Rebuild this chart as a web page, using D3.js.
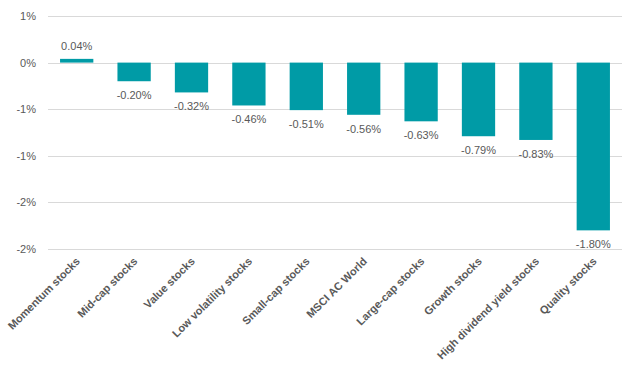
<!DOCTYPE html>
<html lang="en">
    <head>
       <script src="https://d3js.org/d3.v7.min.js"></script>
       <style>
         body { margin: 0; background: #fff; }
         text { font-family: "Liberation Sans", Arial, sans-serif; fill: #595959; }
       </style>
    </head>
    <body>
        <script>
            var width  = 632;
            var height = 367;

            // chart data
            var categories = ["Momentum stocks", "Mid-cap stocks", "Value stocks", "Low volatility stocks",
                              "Small-cap stocks", "MSCI AC World", "Large-cap stocks", "Growth stocks",
                              "High dividend yield stocks", "Quality stocks"];
            var values = [0.04, -0.20, -0.32, -0.46, -0.51, -0.56, -0.63, -0.79, -0.83, -1.80];
            var tickValues = [0.5, 0, -0.5, -1, -1.5, -2];
            var tickLabels = ["1%", "0%", "-1%", "-1%", "-2%", "-2%"];

            var plot = {left: 48, right: 622, top: 16, bottom: 249};

            var svg = d3.select("body")
                        .append("svg")
                        .attr("width", width)
                        .attr("height", height);

            var x = d3.scaleBand()
                      .domain(categories)
                      .range([plot.left, plot.right])
                      .paddingInner(0.42)
                      .paddingOuter(0.21);

            var y = d3.scaleLinear()
                      .domain([-2, 0.5])
                      .range([plot.bottom, plot.top]);

            // gridlines
            svg.selectAll(".grid")
               .data(tickValues)
               .enter().append("line")
               .attr("x1", plot.left)
               .attr("x2", plot.right)
               .attr("y1", function(d) { return Math.round(y(d)) + 0.5; })
               .attr("y2", function(d) { return Math.round(y(d)) + 0.5; })
               .style("stroke", "#d9d9d9")
               .style("stroke-width", 1);

            // y tick labels
            svg.selectAll(".ytick")
               .data(tickValues)
               .enter().append("text")
               .attr("x", 36)
               .attr("y", function(d) { return y(d) + 4; })
               .attr("text-anchor", "end")
               .style("font-size", "11px")
               .text(function(d, i) { return tickLabels[i]; });

            // bars
            svg.selectAll(".bar")
               .data(values)
               .enter().append("rect")
               .attr("x", function(d, i) { return x(categories[i]); })
               .attr("width", x.bandwidth())
               .attr("y", function(d) { return y(Math.max(0, d)); })
               .attr("height", function(d) { return Math.abs(y(d) - y(0)); })
               .style("fill", "#009ba6");

            // value labels
            svg.selectAll(".val")
               .data(values)
               .enter().append("text")
               .attr("x", function(d, i) { return x(categories[i]) + x.bandwidth() / 2; })
               .attr("y", function(d) { return d >= 0 ? y(d) - 9 : y(d) + 18; })
               .attr("text-anchor", "middle")
               .style("font-size", "11px")
               .text(function(d) { return d.toFixed(2) + "%"; });

            // category labels
            svg.selectAll(".cat")
               .data(categories)
               .enter().append("text")
               .attr("text-anchor", "end")
               .attr("transform", function(d) {
                   return "translate(" + (x(d) + x.bandwidth() / 2 + 4) + "," + 262 + ") rotate(-45)";
               })
               .style("font-size", "11px")
               .style("font-weight", "bold")
               .text(function(d) { return d; });
        </script>
    </body>
</html>
